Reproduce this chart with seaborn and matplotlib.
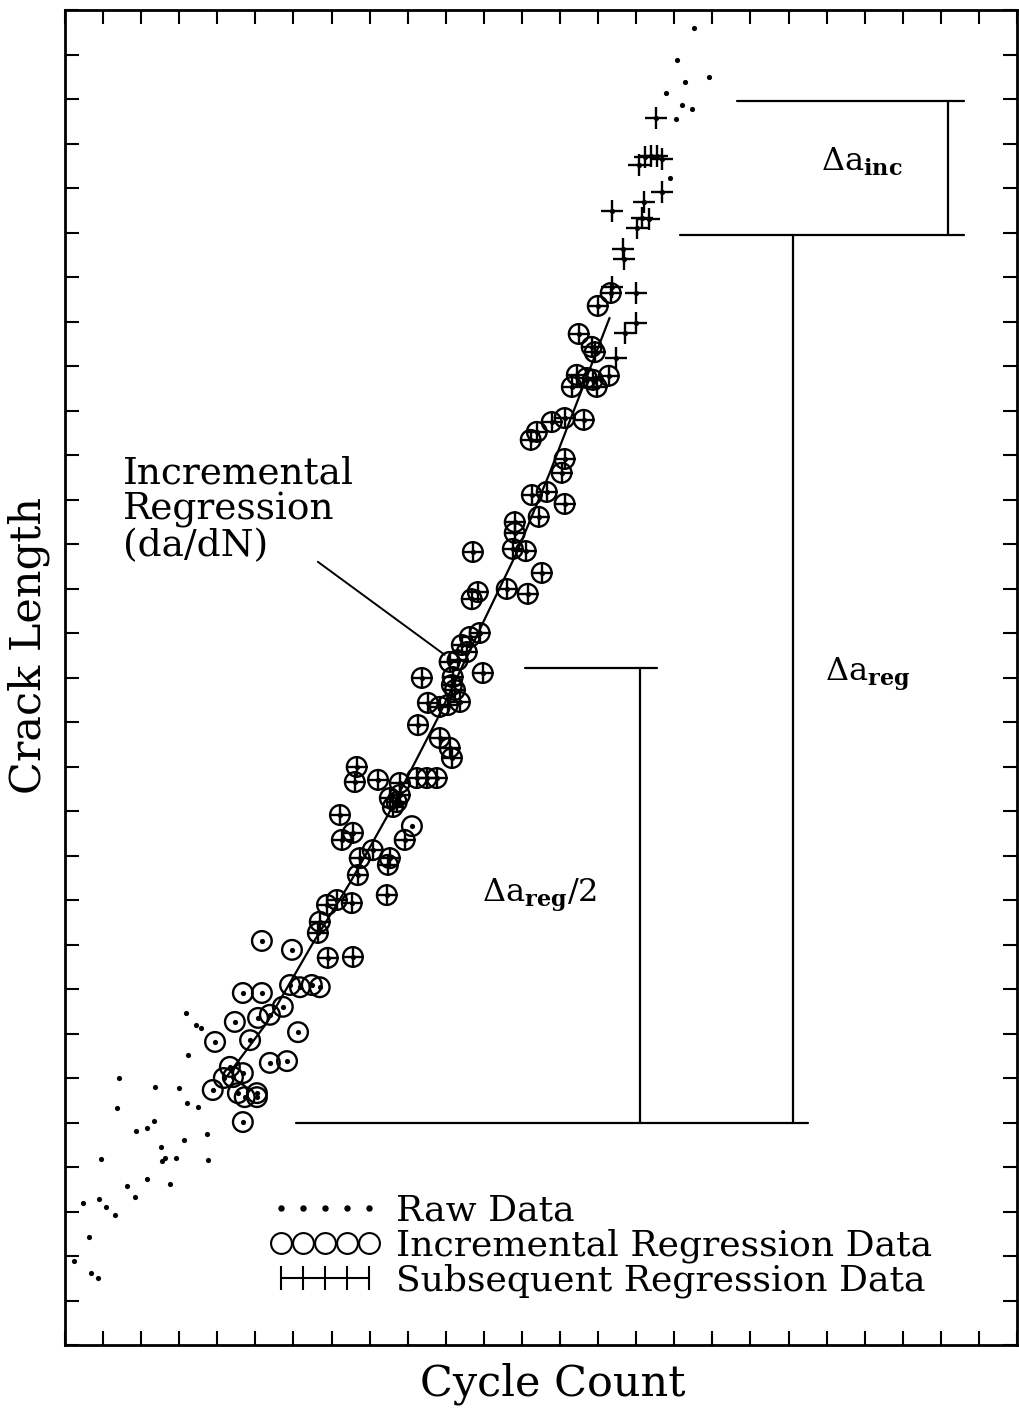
import numpy as np
import pandas as pd
import seaborn as sns
import matplotlib.pyplot as plt
from matplotlib.lines import Line2D

# ---------- data (tick units) ----------
# raw data only (dots)
raw_x = [3.23, 1.42, 2.36, 2.99, 1.36, 3.20, 3.49, 1.86, 2.15, 2.34, 3.73, 0.94, 2.52, 2.55,
         2.62, 2.91, 3.12, 3.75, 1.63, 2.15, 1.84, 2.76, 0.47, 0.89, 1.08, 1.31, 0.63, 0.24,
         0.68, 0.87, 3.18, 3.44, 3.57,
         16.51, 16.06, 16.90, 16.27, 15.77, 16.19, 16.46, 16.04, 15.88]
raw_y = [6.52, 6.00, 5.80, 5.78, 5.33, 5.44, 5.35, 4.81, 4.88, 5.03, 4.74, 4.18, 4.45, 4.13,
         4.20, 4.20, 4.61, 4.16, 3.57, 3.73, 3.33, 3.62, 3.19, 3.28, 3.10, 2.92, 2.43, 1.89,
         1.62, 1.51, 7.46, 7.19, 7.12,
         29.60, 28.88, 28.49, 28.38, 28.13, 27.87, 27.78, 27.55, 26.22]

# incremental regression data only (circles)
inc_x = [9.11, 5.96, 5.17, 4.67, 5.17, 5.91, 6.17, 6.48, 6.69, 5.72, 4.46, 5.07, 5.38, 4.86,
         3.94, 6.12, 5.38, 5.83, 4.33, 4.67, 4.41, 4.17, 3.88, 4.54, 4.72, 5.04, 5.04, 4.67]
inc_y = [11.66, 8.88, 9.08, 7.91, 7.91, 8.09, 8.04, 8.09, 8.04, 7.60, 7.26, 7.35, 7.42, 6.85,
         6.81, 7.03, 6.34, 6.38, 6.25, 6.11, 6.02, 6.00, 5.73, 5.66, 5.57, 5.66, 5.57, 5.01]

# used in both regressions (circle + cross)
both_x = [14.33, 13.99, 13.49, 13.83, 13.91, 13.44, 13.70, 13.86, 14.28, 13.31, 13.96, 13.62,
          13.12, 12.78, 12.39, 12.23, 13.12, 13.04, 12.26, 12.65, 13.12, 12.44, 11.81, 11.81,
          11.76, 12.10, 10.71, 12.52, 11.60, 12.15, 10.84, 10.68, 10.89, 10.63, 10.42, 10.55,
          10.10, 10.31, 9.37, 10.97, 10.18, 10.16, 10.24, 10.37, 9.53, 9.84, 10.05, 9.27,
          9.84, 10.10, 10.16, 7.66, 7.61, 8.22, 8.79, 9.24, 9.50, 9.76, 8.53, 8.71, 8.61, 8.79,
          7.22, 7.56, 7.27, 8.92, 8.08, 7.74, 8.53, 8.48, 7.69, 8.45, 7.53, 6.88, 7.14, 6.69,
          6.64, 6.90, 7.56]
both_y = [23.64, 23.35, 22.72, 22.43, 22.31, 21.80, 21.73, 21.69, 21.78, 21.53, 21.53, 20.79,
          20.83, 20.74, 20.52, 20.34, 19.91, 19.60, 19.10, 19.17, 18.90, 18.61, 18.49, 18.25,
          17.89, 17.84, 17.82, 17.35, 16.99, 16.88, 16.92, 16.76, 16.00, 15.91, 15.73, 15.57,
          15.35, 15.39, 14.99, 15.10, 15.01, 14.83, 14.72, 14.45, 14.43, 14.34, 14.38, 13.93,
          13.64, 13.42, 13.19, 12.99, 12.65, 12.70, 12.63, 12.74, 12.74, 12.74, 12.29, 12.20,
          12.09, 12.36, 11.91, 11.51, 11.35, 11.35, 11.12, 10.94, 10.94, 10.79, 10.56, 10.11,
          9.93, 9.89, 10.00, 9.51, 9.26, 8.70, 8.72]

# subsequent regression data only (crosses)
sub_x = [15.51, 15.07, 15.22, 15.38, 15.54, 15.67, 15.67, 14.36, 15.20, 15.14, 15.33, 15.01,
         14.65, 14.67, 14.36, 14.99, 14.99, 14.70, 14.46]
sub_y = [27.57, 26.52, 26.70, 26.72, 26.72, 26.65, 25.91, 25.48, 25.69, 25.33, 25.30, 25.10,
         24.63, 24.40, 23.78, 23.64, 22.97, 22.74, 22.18]

# incremental regression curve (da/dN)
fit_x = [4.28, 5.30, 6.51, 7.48, 8.48, 9.79, 10.97, 11.86, 12.73, 13.52, 14.30]
fit_y = [6.07, 7.24, 9.03, 10.38, 11.91, 14.09, 16.22, 17.80, 19.60, 21.35, 23.08]

# ---------- plot ----------
sns.set_style("ticks", {'axes.edgecolor': 'black', 'text.color': 'black',
                        'xtick.color': 'black', 'ytick.color': 'black',
                        'axes.labelcolor': 'black'})
plt.rcParams['font.family'] = ['DejaVu Serif']
plt.rcParams['mathtext.fontset'] = 'dejavuserif'

fig = plt.figure(figsize=(10.19, 14.11), dpi=100)
ax = fig.add_axes([65 / 1019, 66 / 1411, 952 / 1019, 1335 / 1411])

all_x = raw_x + inc_x + both_x + sub_x
all_y = raw_y + inc_y + both_y + sub_y
circ = pd.DataFrame({'x': inc_x + both_x, 'y': inc_y + both_y})
cross = pd.DataFrame({'x': both_x + sub_x, 'y': both_y + sub_y})

sns.lineplot(x=fit_x, y=fit_y, sort=False, color='black', lw=1.6, ax=ax)
sns.scatterplot(x=all_x, y=all_y, color='black', s=14, linewidth=0, ax=ax)
sns.scatterplot(data=circ, x='x', y='y', marker='o', s=200, color='black',
                facecolor='none', edgecolor='black', linewidth=1.7, ax=ax)
sns.scatterplot(data=cross, x='x', y='y', marker='+', s=260, color='black',
                linewidth=1.7, ax=ax)

# delta annotation brackets
k = dict(color='black', lw=1.6)
ax.plot([17.64, 23.62], [27.96, 27.96], **k)
ax.plot([23.18, 23.18], [27.96, 24.94], **k)
ax.plot([16.14, 23.62], [24.94, 24.94], **k)
ax.plot([19.11, 19.11], [24.94, 4.99], **k)
ax.plot([12.07, 15.54], [15.21, 15.21], **k)
ax.plot([15.09, 15.09], [15.21, 4.99], **k)
ax.plot([6.06, 19.50], [4.99, 4.99], **k)
ax.plot([6.64, 9.97], [17.60, 15.51], color='black', lw=1.4)

ax.text(20.94, 26.58, r'$\Delta\mathregular{a}_{\mathbf{inc}}$', fontsize=23, ha='center', va='center')
ax.text(21.08, 15.06, r'$\Delta\mathregular{a}_{\mathbf{reg}}$', fontsize=23, ha='center', va='center')
ax.text(12.47, 10.11, r'$\Delta\mathregular{a}_{\mathbf{reg}}\mathregular{/2}$', fontsize=23,
        ha='center', va='center')
ax.text(1.52, 19.98, 'Incremental\nRegression\n(da/dN)', fontsize=27, ha='left', va='top',
        linespacing=1.0)

# axes styling
ax.set_xlim(0, 25)
ax.set_ylim(0, 30)
ax.set_xticks(np.arange(0, 26, 1))
ax.set_yticks(np.arange(0, 31, 1))
ax.tick_params(direction='in', length=10, width=1.5, top=True, right=True,
               labelbottom=False, labelleft=False)
for sp in ax.spines.values():
    sp.set_visible(True)
    sp.set_linewidth(2)
ax.set_xlabel('Cycle Count', fontsize=31)
ax.set_ylabel('Crack Length', fontsize=31)
ax.xaxis.set_label_coords(0.5126, -0.013)
ax.yaxis.set_label_coords(-0.016, 0.524)

handles = [
    Line2D([], [], ls='none', marker='o', ms=3.6, color='black'),
    Line2D([], [], ls='none', marker='o', ms=15, mfc='none', mec='black', mew=1.5),
    Line2D([], [], ls='-', lw=1.5, marker='|', ms=17, mew=1.5, color='black'),
]
labels = ['Raw Data', 'Incremental Regression Data', 'Subsequent Regression Data']
ax.legend(handles, labels, numpoints=5, fontsize=26, frameon=False, loc='center left',
          bbox_to_anchor=(0.2153, 0.0742), borderpad=0, borderaxespad=0,
          handlelength=3.05, handletextpad=0.45, labelspacing=0.02)

plt.savefig('out.png', dpi=100)
